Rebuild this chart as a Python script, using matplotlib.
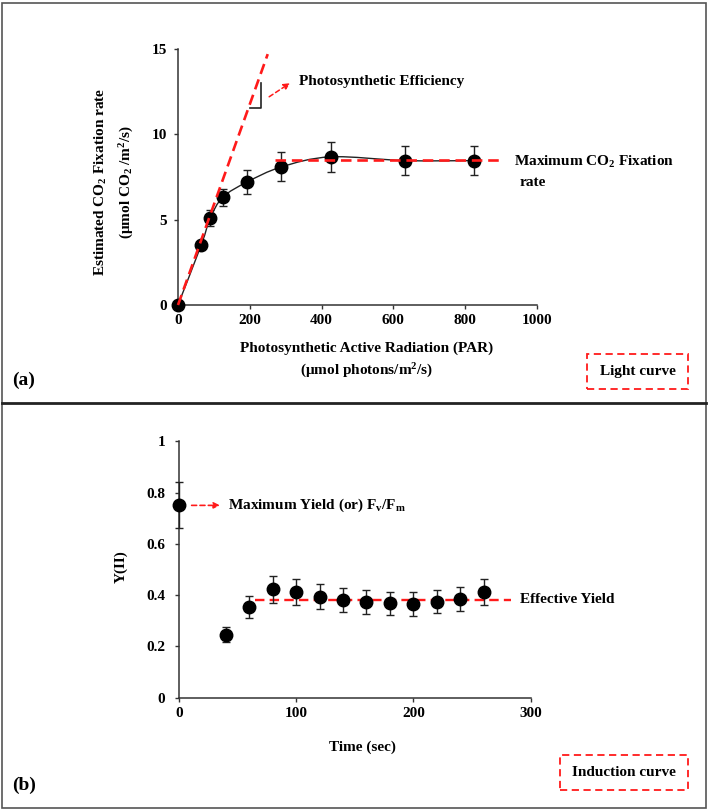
import numpy as np
import matplotlib
matplotlib.use('Agg')
import matplotlib.pyplot as plt
from matplotlib.path import Path
from matplotlib.patches import PathPatch, Rectangle
from matplotlib.lines import Line2D

plt.rcParams['font.family'] = ['Liberation Serif', 'DejaVu Serif']
plt.rcParams['font.weight'] = 'bold'
plt.rcParams['mathtext.default'] = 'regular'
plt.rcParams['axes.labelweight'] = 'bold'

# (a) light curve
par = [0, 65, 90, 125, 192, 288, 425, 633, 826]
co2 = [0, 3.53, 5.1, 6.32, 7.2, 8.09, 8.68, 8.46, 8.46]
co2_err = [0, 0.2, 0.45, 0.5, 0.72, 0.85, 0.88, 0.86, 0.86]
slope_line_x = [0, 250]
slope_line_y = [0, 14.7]
max_rate = 8.52
max_rate_x = [270, 909]

# (b) induction curve
time_s = [0, 40, 60, 80, 100, 120, 140, 160, 180, 200, 220, 240, 260]
yield_ii = [0.75, 0.246, 0.355, 0.423, 0.412, 0.394, 0.38, 0.373, 0.368, 0.365, 0.375, 0.385, 0.411]
yield_err = [0.09, 0.03, 0.043, 0.052, 0.05, 0.049, 0.047, 0.046, 0.045, 0.046, 0.046, 0.048, 0.05]
eff_yield = 0.38
eff_yield_x = [65, 283]

RED = '#ff1a1a'
AX = '#333333'

fig = plt.figure(figsize=(7.08, 8.11), dpi=100)


def style(ax, pad):
    for s in ['top', 'right']:
        ax.spines[s].set_visible(False)
    for s in ['left', 'bottom']:
        ax.spines[s].set_color(AX)
        ax.spines[s].set_linewidth(1.1)
    ax.tick_params(direction='out', length=3, width=1, colors=AX, labelcolor='black', labelsize=11)
    ax.tick_params(axis='y', pad=pad)
    for lab in ax.get_xticklabels() + ax.get_yticklabels():
        lab.set_fontweight('bold')


def smooth_path(xs, ys):
    # Excel-style smoothed line: cubic Bezier through the points
    pts = np.column_stack([xs, ys]).astype(float)
    n = len(pts)
    verts = [pts[0]]
    codes = [Path.MOVETO]
    for i in range(n - 1):
        p0 = pts[max(i - 1, 0)]
        p1 = pts[i]
        p2 = pts[i + 1]
        p3 = pts[min(i + 2, n - 1)]
        c1 = p1 + (p2 - p0) / 6
        c2 = p2 - (p3 - p1) / 6
        verts += [c1, c2, p2]
        codes += [Path.CURVE4] * 3
    return Path(verts, codes)


# ---------- panel (a) ----------
ax1 = fig.add_axes([0.2514, 0.6239, 0.507, 0.3157])
ax1.set_xlim(0, 1000)
ax1.set_ylim(0, 15)
ax1.set_xticks([0, 200, 400, 600, 800, 1000])
ax1.set_yticks([0, 5, 10, 15])
style(ax1, 5)

ax1.add_patch(PathPatch(smooth_path(par, co2), fill=False, edgecolor='#222222', lw=1.0, zorder=2))
ax1.plot(slope_line_x, slope_line_y, color=RED, lw=1.9, dashes=(4, 2.2), zorder=4, clip_on=False)
ax1.plot(max_rate_x, [max_rate, max_rate], color=RED, lw=1.9, dashes=(4, 2.2), zorder=4, clip_on=False)
ax1.errorbar(par, co2, yerr=co2_err, fmt='o', color='black', ms=9, ecolor='#222222',
             elinewidth=1, capsize=2.8, capthick=1, zorder=3, clip_on=False)
ax1.plot([201, 230, 230], [11.53, 11.53, 13.0], color='#222222', lw=1.2, zorder=5)
ax1.annotate('', xy=(312, 13.0), xytext=(254, 12.2),
             arrowprops=dict(arrowstyle='-|>', color=RED, lw=1.1, linestyle=(0, (3, 2)),
                             mutation_scale=9, shrinkA=0, shrinkB=0))
ax1.text(337, 13.1, 'Photosynthetic Efficiency', fontsize=11, fontweight='bold', va='center')
ax1.text(935, 8.36, 'Maximum CO$_2$ Fixation', fontsize=11, fontweight='bold', va='center', clip_on=False)
ax1.text(951, 7.15, 'rate', fontsize=11, fontweight='bold', va='center', clip_on=False)

ax1.set_ylabel('Estimated CO$_2$ Fixation rate\n(μmol CO$_2$ /m$^2$/s)', fontsize=11,
               fontweight='bold', linespacing=1.65)
ax1.yaxis.set_label_coords(-0.176, 0.48)
ax1.yaxis.label.set_va('center')
ax1.set_xlabel('Photosynthetic Active Radiation (PAR)\n(μmol photons/m$^2$/s)', fontsize=11,
               fontweight='bold', linespacing=1.5)
ax1.xaxis.set_label_coords(0.524, -0.217)
ax1.xaxis.label.set_va('center')

# ---------- panel (b) ----------
ax2 = fig.add_axes([0.2528, 0.1397, 0.4965, 0.3162])
ax2.set_xlim(0, 300)
ax2.set_ylim(0, 1)
ax2.set_xticks([0, 100, 200, 300])
ax2.set_yticks([0, 0.2, 0.4, 0.6, 0.8, 1])
ax2.set_yticklabels(['0', '0.2', '0.4', '0.6', '0.8', '1'])
style(ax2, 7)

ax2.plot(eff_yield_x, [eff_yield, eff_yield], color=RED, lw=1.7, dashes=(4, 2.2), zorder=2, clip_on=False)
ax2.errorbar(time_s, yield_ii, yerr=yield_err, fmt='o', color='black', ms=9, ecolor='#222222',
             elinewidth=1, capsize=2.8, capthick=1, zorder=3, clip_on=False)
ax2.annotate('', xy=(35, 0.75), xytext=(10.8, 0.75),
             arrowprops=dict(arrowstyle='-|>', color=RED, lw=1.2, linestyle=(0, (3, 2)),
                             mutation_scale=9, shrinkA=0, shrinkB=0))
ax2.text(41.6, 0.75, 'Maximum Yield (or) F$_v$/F$_m$', fontsize=11, fontweight='bold', va='center')
ax2.text(291, 0.384, 'Effective Yield', fontsize=11, fontweight='bold', va='center', clip_on=False)

ax2.set_ylabel('Y(II)', fontsize=11, fontweight='bold')
ax2.yaxis.set_label_coords(-0.165, 0.51)
ax2.yaxis.label.set_va('center')
ax2.set_xlabel('Time (sec)', fontsize=11, fontweight='bold')
ax2.xaxis.set_label_coords(0.522, -0.192)
ax2.xaxis.label.set_va('center')

# ---------- frame, separator, panel letters, boxes ----------
W, H = 708, 811


def fx(px):
    return px / W


def fy(py):
    return 1 - py / H


fig.patches.append(Rectangle((fx(2), fy(808)), fx(704), 805 / H, transform=fig.transFigure,
                             fill=False, edgecolor='#555555', lw=1.2))
fig.lines.append(Line2D([fx(2), fx(706)], [fy(403), fy(403)], transform=fig.transFigure,
                        color='#222222', lw=2))

fig.text(fx(12), fy(380), '(a)', fontsize=14, fontweight='bold', va='center')
fig.text(fx(12), fy(785), '(b)', fontsize=14, fontweight='bold', va='center')

for (x0, x1, y0, y1, label) in [(587, 688, 354, 389, 'Light curve'),
                                 (560, 688, 755, 790, 'Induction curve')]:
    fig.patches.append(Rectangle((fx(x0), fy(y1)), fx(x1 - x0), (y1 - y0) / H,
                                 transform=fig.transFigure, fill=False, edgecolor=RED,
                                 lw=1.3, linestyle=(0, (4, 2.5))))
    fig.text(fx((x0 + x1) / 2), fy((y0 + y1) / 2), label, fontsize=11, fontweight='bold',
             ha='center', va='center')

fig.savefig('out.png', dpi=100)
